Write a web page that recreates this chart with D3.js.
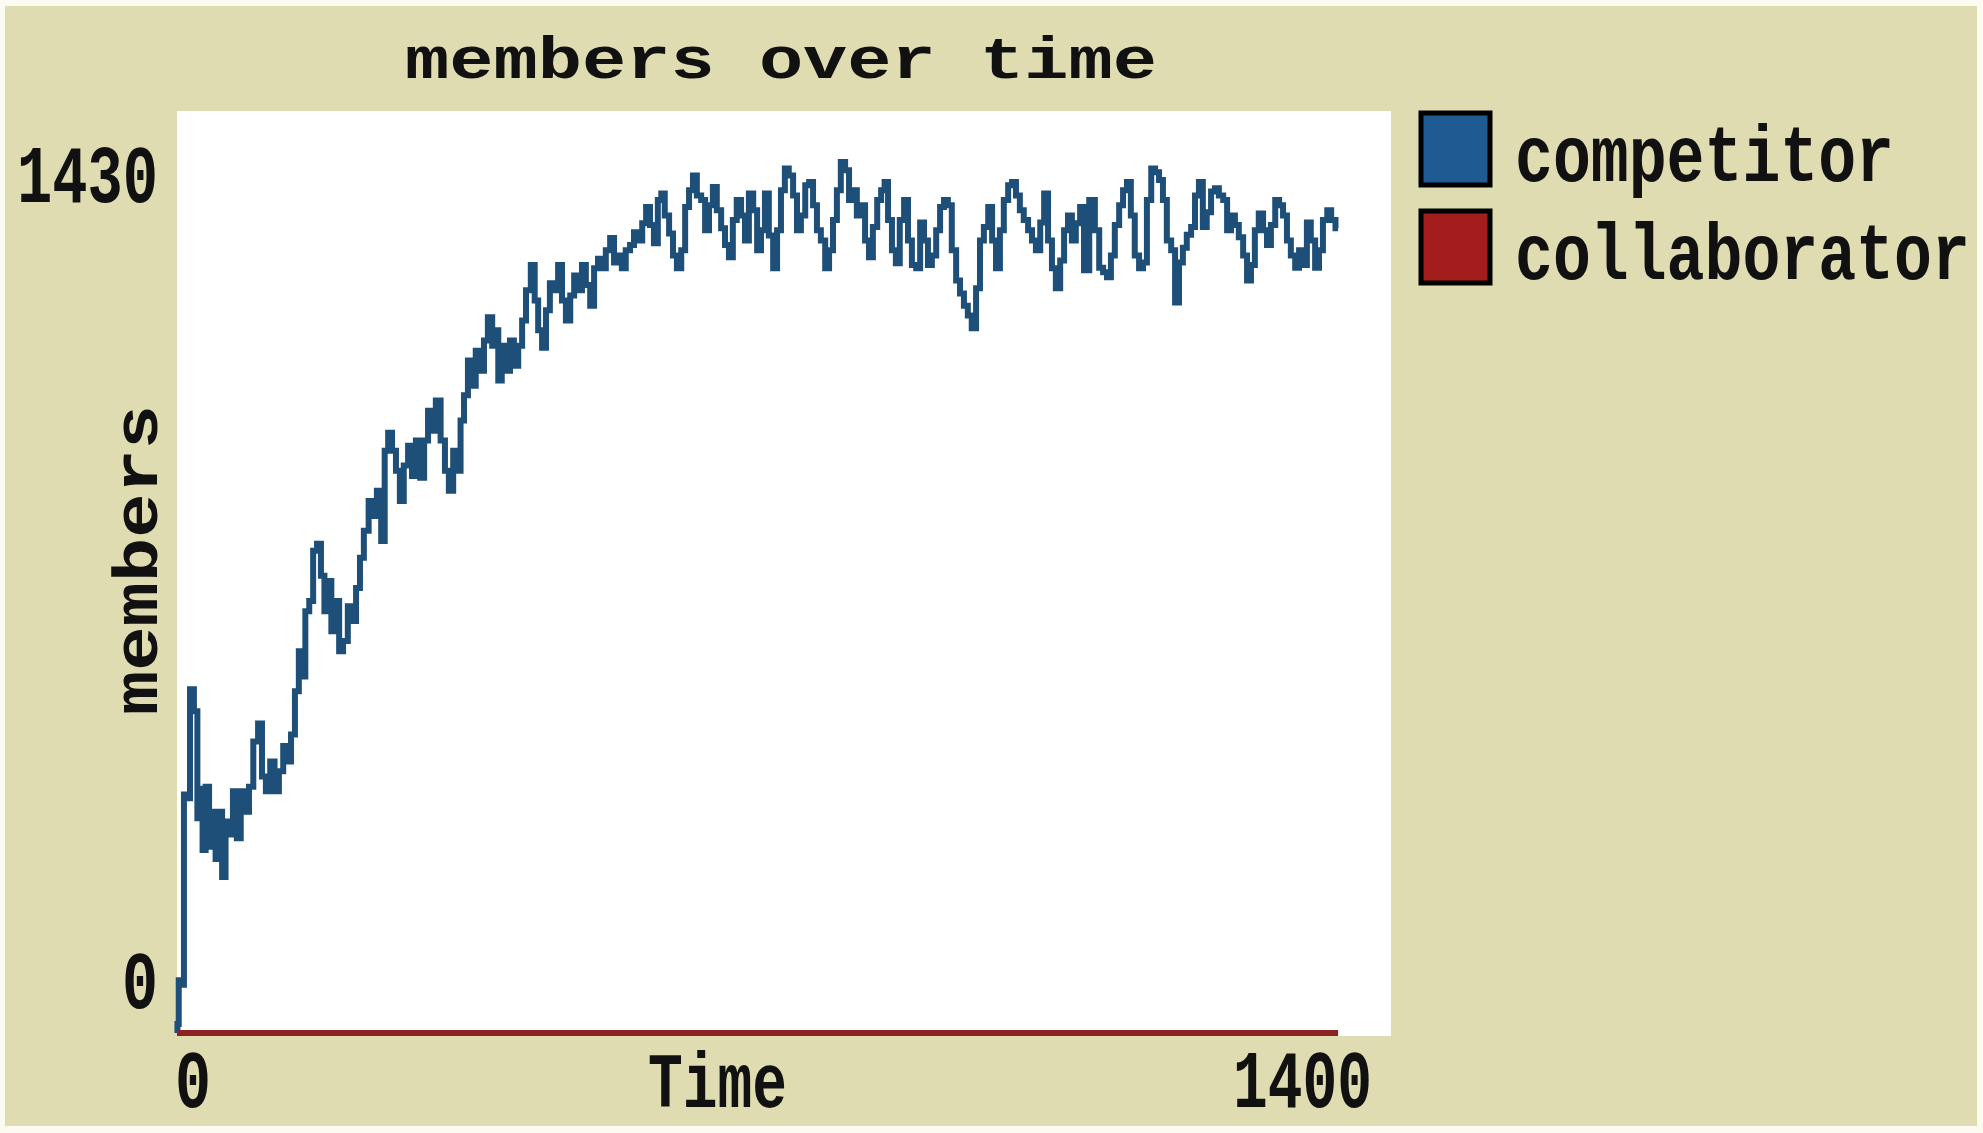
<!DOCTYPE html>
<html><head><meta charset="utf-8">
<script src="https://cdn.jsdelivr.net/npm/d3@7"></script>
<style>html,body{margin:0;padding:0;background:#fff;overflow:hidden}</style>
</head><body>
<svg id="chart" width="1983" height="1133"></svg>
<script>
// ---------- data ----------
const title = "members over time";
const xLabel = "Time";
const yLabel = "members";
const seriesNames = ["competitor", "collaborator"];
const xTickLabels = [0, 1400];
const yTickLabels = [0, 1430];

const competitorTicks = [0,1,3,7,9,13,17,22,25,28,31,35,39,43,46,50,54,58,62,67,71,76,81,85,91,96,100,105,110,115,120,125,129,134,138,143,146,150,155,159,164,168,172,176,180,185,189,194,200,204,209,213,218,224,228,233,238,241,246,250,255,259,264,269,273,278,283,287,292,296,301,307,311,316,321,325,329,333,338,342,347,352,356,361,366,369,372,377,382,386,391,396,400,405,411,414,419,423,428,432,437,442,446,451,456,460,465,469,474,479,483,488,492,497,502,506,511,515,520,525,529,534,539,543,548,552,557,560,565,570,574,579,584,588,593,597,602,607,611,616,620,625,630,634,639,643,648,653,657,662,667,671,676,680,685,690,694,699,703,708,713,717,722,727,731,736,740,745,750,754,759,763,768,773,777,782,786,791,796,800,805,810,814,818,822,827,831,836,841,845,850,855,859,864,868,873,878,882,887,891,896,901,905,910,914,919,924,928,933,938,942,947,951,956,961,965,970,974,979,984,988,993,998,1002,1007,1011,1016,1021,1025,1030,1034,1039,1044,1048,1056,1061,1066,1070,1075,1079,1084,1089,1093,1098,1102,1107,1112,1116,1121,1126,1130,1135,1139,1144,1149,1153,1158,1162,1167,1172,1176,1181,1185,1190,1195,1199,1204,1209,1213,1218,1222,1227,1232,1236,1241,1245,1250,1255,1259,1264,1269,1273,1278,1282,1287,1292,1296,1301,1305,1310,1315,1319,1324,1329,1333,1339];
const competitor = [0,14,82,75,370,364,533,499,333,379,284,382,289,343,270,343,242,328,308,375,302,375,343,382,452,480,398,375,421,375,406,445,421,463,530,592,553,654,670,748,759,709,654,701,623,670,592,608,662,639,690,737,779,825,802,841,763,903,931,903,872,825,880,911,864,919,861,919,965,934,981,919,872,841,903,872,950,989,1043,1004,1058,1027,1074,1110,1066,1090,1012,1066,1027,1074,1035,1066,1105,1152,1191,1136,1090,1063,1121,1163,1152,1191,1136,1105,1144,1175,1152,1191,1160,1128,1186,1201,1186,1214,1233,1195,1206,1186,1214,1222,1242,1229,1256,1281,1253,1225,1292,1302,1268,1240,1206,1186,1214,1281,1307,1330,1299,1292,1245,1284,1312,1276,1248,1222,1203,1261,1292,1268,1229,1302,1276,1214,1245,1302,1237,1186,1245,1307,1341,1330,1299,1245,1268,1315,1320,1284,1245,1229,1186,1214,1261,1307,1351,1338,1292,1307,1268,1284,1229,1203,1250,1292,1307,1320,1261,1214,1194,1261,1292,1229,1191,1186,1257,1229,1191,1206,1245,1281,1292,1284,1214,1167,1147,1128,1113,1093,1155,1229,1250,1281,1229,1186,1245,1292,1315,1320,1299,1276,1261,1245,1229,1214,1257,1302,1229,1186,1155,1198,1245,1268,1229,1256,1281,1183,1292,1245,1187,1180,1172,1206,1253,1284,1307,1320,1268,1206,1186,1195,1292,1341,1335,1323,1292,1229,1214,1133,1195,1218,1238,1250,1299,1320,1250,1273,1305,1310,1299,1292,1245,1268,1253,1234,1206,1167,1191,1245,1271,1245,1222,1253,1292,1284,1268,1229,1206,1187,1214,1191,1257,1229,1187,1214,1261,1276,1261,1248];

const collaboratorTicks = [0, 1339];
const collaborator = [0, 0];

// ---------- styling ----------
const BG = "#dfdcb2";
const LINE_BLUE = "#1e4f78";
const SWATCH_BLUE = "#1f5a93";
const LINE_RED = "#8c2222";
const SWATCH_RED = "#a31d1d";
const FONT = "'Liberation Mono', 'DejaVu Sans Mono', monospace";

const svg = d3.select("#chart");
svg.append("rect").attr("x", 0).attr("y", 0).attr("width", 1983).attr("height", 1133).attr("fill", "#fbfbf2");
svg.append("rect").attr("x", 5).attr("y", 6).attr("width", 1972).attr("height", 1120).attr("fill", BG);

const plot = {left: 177, right: 1391, top: 111, bottom: 1036};
svg.append("rect").attr("x", plot.left).attr("y", plot.top)
  .attr("width", plot.right - plot.left).attr("height", plot.bottom - plot.top).attr("fill", "#ffffff");

const x = d3.scaleLinear().domain([xTickLabels[0], xTickLabels[1]]).range([plot.left, plot.right]);
const y = d3.scaleLinear().domain([yTickLabels[0], yTickLabels[1]]).range([1033, plot.top]);

function label(str, tx, ty, o) {
  const g = svg.append("g").attr("transform", `translate(${tx},${ty})` + (o.rot ? ` rotate(${o.rot})` : "") + ` scale(1,${o.sy || 1})`);
  const t = g.append("text").text(str)
    .attr("font-family", FONT).attr("font-weight", "bold")
    .attr("font-size", o.size).attr("fill", "#111")
    .attr("text-anchor", o.anchor || "start");
  if (o.len) t.attr("textLength", o.len).attr("lengthAdjust", "spacingAndGlyphs");
  return t;
}

// title
label(title, 405, 78, {size: 50, sy: 1.2, len: 752});

// series lines (stair-stepped, like the pixelated original)
const line = d3.line().x(d => x(d[0])).y(d => y(d[1])).curve(d3.curveStep);
const compData = d3.zip(competitorTicks, competitor);
const collData = d3.zip(collaboratorTicks, collaborator);
svg.append("path").datum(compData).attr("d", line)
  .attr("fill", "none").attr("stroke", LINE_BLUE).attr("stroke-width", 6)
  .attr("stroke-linejoin", "miter");
svg.append("path").datum(collData).attr("d", d3.line().x(d => x(d[0])).y(d => y(d[1])))
  .attr("fill", "none").attr("stroke", LINE_RED).attr("stroke-width", 6);

// axis labels (min / max only, NetLogo style)
label(String(yTickLabels[1]), 158, y(yTickLabels[1]) + 91, {size: 60, sy: 1.35, anchor: "end", len: 141});
label(String(yTickLabels[0]), 158, y(yTickLabels[0]) - 25, {size: 60, sy: 1.35, anchor: "end"});
label(String(xTickLabels[0]), x(xTickLabels[0]) - 2, 1107, {size: 60, sy: 1.35});
label(String(xTickLabels[1]), x(xTickLabels[1]) - 19, 1107, {size: 60, sy: 1.35, anchor: "end", len: 139});
label(xLabel, 648, 1107, {size: 60, sy: 1.3, len: 139});
label(yLabel, 157, 560, {size: 55, sy: 1.15, rot: -90, anchor: "middle", len: 310});

// legend
const legend = [
  {name: seriesNames[0], color: SWATCH_BLUE, y: 111},
  {name: seriesNames[1], color: SWATCH_RED, y: 209}
];
legend.forEach(d => {
  svg.append("rect").attr("x", 1421).attr("y", d.y + 2).attr("width", 69).attr("height", 72)
    .attr("fill", d.color).attr("stroke", "#000").attr("stroke-width", 5);
  label(d.name, 1515, d.y + 70, {size: 63, sy: 1.25, len: d.name.length * 37.9});
});
</script>
</body></html>
